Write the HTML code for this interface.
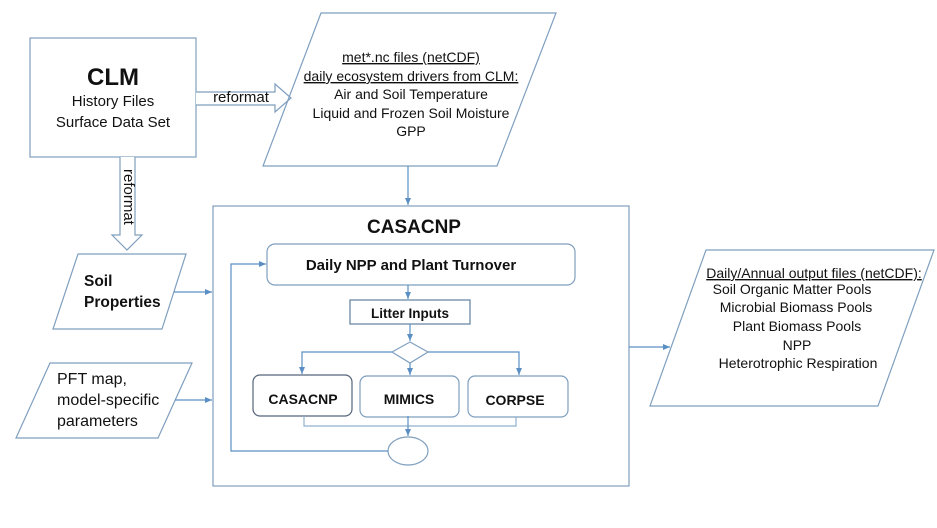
<!DOCTYPE html>
<html><head><meta charset="utf-8"><style>
body{margin:0;background:#fff}
svg{display:block}
text{font-family:"Liberation Sans",sans-serif;fill:#111}
</style></head><body>
<svg width="937" height="528" viewBox="0 0 937 528" xmlns="http://www.w3.org/2000/svg">
<defs><marker id="a" markerWidth="8" markerHeight="8" refX="7" refY="4" orient="auto" markerUnits="userSpaceOnUse"><path d="M0,1 L7,4 L0,7 z" fill="#5b8fc4"/></marker></defs>
<g fill="none" stroke="#7f9fbf" stroke-width="1.2">
<rect x="30" y="38" width="166" height="119"/>
<path d="M196,92 H275 V84 L291,98 L275,112 V105 H196" fill="#fff"/>
<path d="M120,157 V235 H112 L127,250 L142,235 H135 V157" fill="#fff"/>
<polygon points="321,13 556,13 497,166 263,166"/>
<polygon points="78,254 186,254 162,329 53,329"/>
<polygon points="50,363 192,363 158,438 16,438"/>
<polygon points="706,250 934,250 878,406 650,406"/>
<rect x="213" y="206" width="416" height="280"/>
<rect x="267" y="244" width="308" height="41" rx="8"/>
<rect x="350" y="300" width="120" height="24" stroke="#5f7f9f"/>
<polygon points="410,342 428,352 410,363 392,352"/>
<rect x="253" y="375" width="99" height="41" rx="7" stroke="#55657a"/>
<rect x="360" y="376" width="99" height="41" rx="7"/>
<rect x="468" y="376" width="100" height="41" rx="7"/>
<ellipse cx="408" cy="451" rx="20" ry="14"/>
</g>
<g fill="none" stroke="#5b8fc4" stroke-width="1.2">
<line x1="408" y1="166" x2="408" y2="205" marker-end="url(#a)"/>
<line x1="174" y1="292" x2="212" y2="292" marker-end="url(#a)"/>
<line x1="175" y1="400" x2="212" y2="400" marker-end="url(#a)"/>
<line x1="629" y1="347" x2="670" y2="347" marker-end="url(#a)"/>
<line x1="408" y1="285" x2="408" y2="299" marker-end="url(#a)"/>
<line x1="410" y1="324" x2="410" y2="341" marker-end="url(#a)"/>
<polyline points="392,352 302,352 302,374" marker-end="url(#a)"/>
<polyline points="428,352 519,352 519,375" marker-end="url(#a)"/>
<line x1="410" y1="363" x2="410" y2="375" marker-end="url(#a)"/>
<polyline points="304,416 304,426 516,426 516,417" stroke="#8fb0cf"/>
<line x1="408" y1="416" x2="408" y2="436" marker-end="url(#a)"/>
<polyline points="388,451 231,451 231,264 266,264" marker-end="url(#a)"/>
</g>
<text x="113" y="85" font-size="24" font-weight="bold" text-anchor="middle">CLM</text>
<text x="113" y="106" font-size="15" text-anchor="middle">History Files</text>
<text x="113" y="127" font-size="15" text-anchor="middle">Surface Data Set</text>
<text x="241" y="102" font-size="15" text-anchor="middle">reformat</text>
<text transform="translate(124,169) rotate(90)" font-size="15">reformat</text>
<g font-size="14" text-anchor="middle">
<text x="411" y="62" text-decoration="underline">met*.nc files (netCDF)</text>
<text x="411" y="81" text-decoration="underline">daily ecosystem drivers from CLM:</text>
<text x="411" y="99">Air and Soil Temperature</text>
<text x="411" y="118">Liquid and Frozen Soil Moisture</text>
<text x="411" y="136">GPP</text>
</g>
<text x="84" y="286" font-size="15.5" font-weight="bold">Soil</text>
<text x="84" y="307" font-size="15.5" font-weight="bold">Properties</text>
<text x="57" y="384" font-size="16">PFT map,</text>
<text x="57" y="405" font-size="16">model-specific</text>
<text x="57" y="426" font-size="16">parameters</text>
<text x="414" y="233" font-size="19" font-weight="bold" text-anchor="middle">CASACNP</text>
<text x="411" y="270" font-size="15" font-weight="bold" text-anchor="middle">Daily NPP and Plant Turnover</text>
<text x="410" y="318" font-size="13.5" font-weight="bold" text-anchor="middle">Litter Inputs</text>
<text x="303" y="404" font-size="14" font-weight="bold" text-anchor="middle">CASACNP</text>
<text x="409" y="404" font-size="14" font-weight="bold" text-anchor="middle">MIMICS</text>
<text x="515" y="405" font-size="14" font-weight="bold" text-anchor="middle">CORPSE</text>
<g font-size="14" text-anchor="middle">
<text x="814" y="278" text-decoration="underline">Daily/Annual output files (netCDF):</text>
<text x="792" y="294">Soil Organic Matter Pools</text>
<text x="796" y="312">Microbial Biomass Pools</text>
<text x="797" y="331">Plant Biomass Pools</text>
<text x="797" y="350">NPP</text>
<text x="798" y="368">Heterotrophic Respiration</text>
</g>
</svg>
</body></html>
